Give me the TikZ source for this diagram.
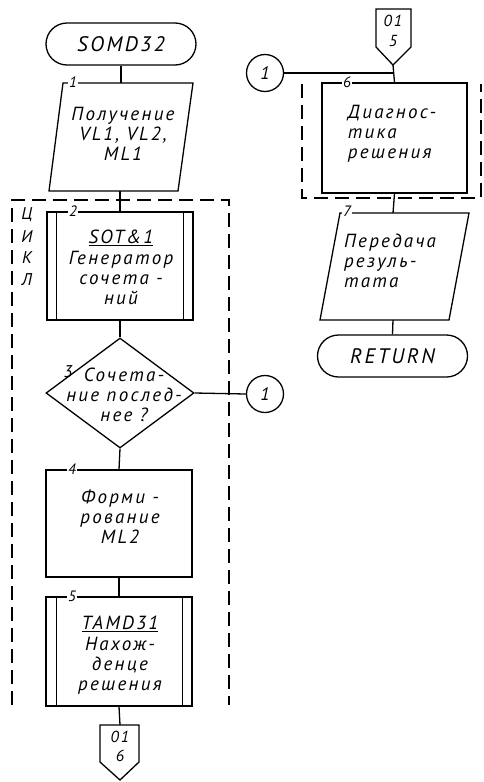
\documentclass[tikz,border=0pt]{standalone}
\usepackage{fontspec}
\setmainfont{PT Sans}
\newfontfamily\gost{PT Sans}[LetterSpace=12]
\usetikzlibrary{shapes.geometric}
\tikzset{
  ln/.style={line width=1.3pt},
  blk/.style={draw, line width=1.3pt, inner sep=0pt},
  txt/.style={font=\gost\itshape\fontsize{19}{20}\selectfont, align=center, inner sep=0pt},
  num/.style={font=\gost\itshape\fontsize{15}{15}\selectfont, fill=white, inner sep=1.5pt},
  term/.style={draw, line width=1.3pt, rounded corners=21pt, minimum width=150pt, minimum height=42pt, font=\gost\itshape\fontsize{21}{21}\selectfont},
  dsh/.style={line width=1.1pt, dash pattern=on 14pt off 7pt},
  conn/.style={draw, circle, line width=1.3pt, minimum size=37pt, inner sep=0pt, font=\gost\itshape\fontsize{18}{18}\selectfont},
  pg/.style={font=\gost\itshape\fontsize{16}{16}\selectfont, inner sep=0pt},
  lp/.style={font=\gost\itshape\fontsize{17}{17}\selectfont, inner sep=0pt}
}
\begin{document}
\begin{tikzpicture}[x=1pt,y=-1pt]
\useasboundingbox (0,0) rectangle (483,782);

% ---- left column ----
\node[term] (s) at (121,44) {SOMD32};

% block 1 (input parallelogram)
\coordinate (b1n) at (121,83);
\coordinate (b1s) at (120,191);
\draw[ln] (63,83) -- (193,83) -- (178,191) -- (49,191) -- cycle;
\node[txt] (t1) at (123,134) {Получение\\VL1, VL2,\\ML1};
\node[num] (n1) at (73,82) {1};

% loop frame
\draw[dsh] (12,705) -- (12,200) -- (229,200) -- (229,705);
\node[lp] (lc) at (27,215) {Ц};
\node[lp] (li) at (27,237) {И};
\node[lp] (lk) at (27,258) {К};
\node[lp] (ll) at (27,280) {Л};

% block 2 (predefined process)
\node[blk, minimum width=146pt, minimum height=108pt] (b2) at (120,266) {};
\draw[ln] ([xshift=10pt]b2.north west) -- ([xshift=10pt]b2.south west);
\draw[ln] ([xshift=-10pt]b2.north east) -- ([xshift=-10pt]b2.south east);
\node[txt] (t2) at (121,267) {\underline{SOT\&1}\\[1pt]Генератор\\сочета -\\ний};
\node[num] (n2) at (73,211) {2};

% decision 3
\node[draw, diamond, line width=1.3pt, minimum width=148pt, minimum height=110pt, inner sep=0pt] (d3) at (120,393) {};
\node[txt] (t3) at (124,395) {Сочета-\\ние послед-\\нее ?};
\node[pg, font=\gost\itshape\fontsize{17}{17}\selectfont] (n3) at (68,372) {3};
\node[conn] (c1) at (265,394) {1};

% block 4
\node[blk, minimum width=146pt, minimum height=107pt] (b4) at (119,523.5) {};
\node[txt] (t4) at (120,517) {Форми -\\рование\\ML2};
\node[num] (n4) at (72,469) {4};

% block 5 (predefined process)
\node[blk, minimum width=146pt, minimum height=109pt] (b5) at (119,651.5) {};
\draw[ln] ([xshift=11pt]b5.north west) -- ([xshift=11pt]b5.south west);
\draw[ln] ([xshift=-10pt]b5.north east) -- ([xshift=-10pt]b5.south east);
\node[txt] (t5) at (120,655) {\underline{TAMD31}\\[1pt]Нахож-\\денце\\решения};
\node[num] (n5) at (72,596) {5};

% off-page connector to page 01, block 6
\draw[ln] (100,725) -- (139,725) -- (139,762) -- (120,780) -- (100,762) -- cycle;
\coordinate (p6n) at (120,725);
\node[pg] (p6a) at (120,737) {01};
\node[pg] (p6b) at (120,756) {6};

% ---- right column ----
\draw[ln] (376,9) -- (411,9) -- (411,47) -- (393,65) -- (376,47) -- cycle;
\coordinate (p5s) at (393,65);
\node[pg] (p5a) at (393,21) {01};
\node[pg] (p5b) at (393,41) {5};
\node[conn] (c1b) at (265,73) {1};
\coordinate (j) at (393,73);

% block 6 with frame
\draw[dsh] (302,84) -- (302,198) -- (481,198) -- (481,84);
\node[blk, minimum width=145pt, minimum height=110pt] (b6) at (394.5,138) {};
\node[txt, align=left] (t6) at (392,134) {Диагнос-\\тика\\решения};
\node[num] (n6) at (347,82) {6};

% block 7 (output parallelogram)
\coordinate (b7n) at (393,213);
\coordinate (b7s) at (393,320);
\draw[ln] (340,213) -- (469,213) -- (449,320) -- (320,320) -- cycle;
\node[txt, align=left] (t7) at (390,261) {Передача\\резуль-\\тата};
\node[num] (n7) at (347,211) {7};

\node[term] (r) at (392.5,356) {RETURN};

% ---- connectors ----
\draw[ln] (s.south) -- (b1n);
\draw[ln] (b1s) -- (b2.north);
\draw[ln] (b2.south) -- (d3.north);
\draw[ln] (d3.east) -- (c1.west);
\draw[ln] (d3.south) -- (b4.north);
\draw[ln] (b4.south) -- (b5.north);
\draw[ln] (b5.south) -- (p6n);
\draw[ln] (c1b.east) -- (j);
\draw[ln] (p5s) -- (b6.north);
\draw[ln] (b6.south) -- (b7n);
\draw[ln] (b7s) -- (r.north);
\end{tikzpicture}
\end{document}
